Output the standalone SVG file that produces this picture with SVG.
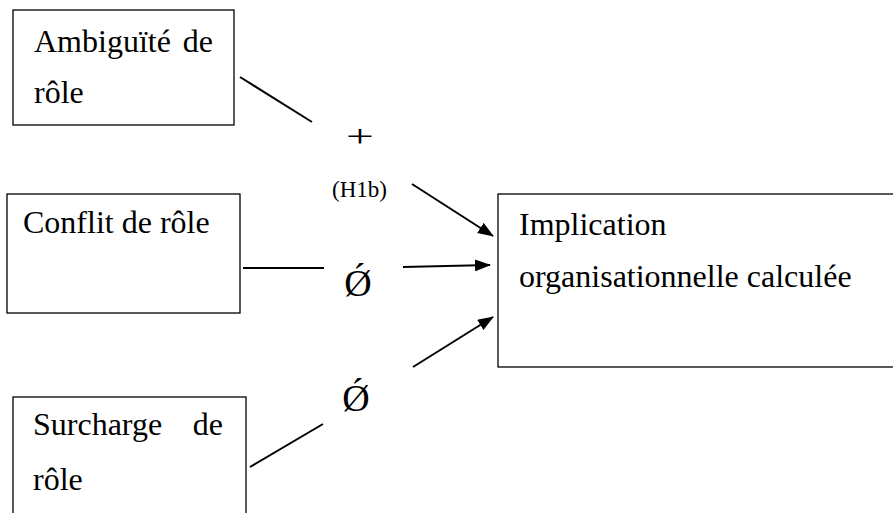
<svg xmlns="http://www.w3.org/2000/svg" width="893" height="513" viewBox="0 0 893 513">
  <style>
    .box { fill: #fff; stroke: #000; stroke-width: 1.3; }
    .lbl { font-family: "Liberation Serif", "Times New Roman", serif; font-size: 32px; fill: #000; }
    .sm { font-family: "Liberation Serif", "Times New Roman", serif; font-size: 23px; fill: #000; }
    .sym { font-family: "Liberation Serif", "Times New Roman", serif; font-size: 38px; fill: #000; text-anchor: middle; }
    .ln { stroke: #000; stroke-width: 2; fill: none; }
  </style>
  <defs>
    <marker id="arrow" markerWidth="16" markerHeight="12" refX="15" refY="6" orient="auto" markerUnits="userSpaceOnUse">
      <path d="M0,0 L16,6 L0,12 Z" fill="#000"/>
    </marker>
  </defs>

  <rect width="893" height="513" fill="#fff"/>

  <g id="ambiguite">
    <rect class="box" x="13" y="10" width="221" height="115"/>
    <text class="lbl" x="34" y="52">Ambiguïté</text>
    <text class="lbl" x="213" y="52" text-anchor="end">de</text>
    <text class="lbl" x="34" y="103">rôle</text>
  </g>

  <g id="conflit">
    <rect class="box" x="7" y="194" width="233" height="119"/>
    <text class="lbl" x="23" y="233">Conflit de rôle</text>
  </g>

  <g id="surcharge">
    <rect class="box" x="13" y="397" width="233" height="130"/>
    <text class="lbl" x="33" y="435">Surcharge</text>
    <text class="lbl" x="223" y="435" text-anchor="end">de</text>
    <text class="lbl" x="33" y="490">rôle</text>
  </g>

  <g id="implication">
    <rect class="box" x="498" y="194" width="400" height="173"/>
    <text class="lbl" x="519" y="235">Implication</text>
    <text class="lbl" x="519" y="287">organisationnelle calculée</text>
  </g>

  <g id="connectors">
    <line class="ln" x1="240" y1="77" x2="312" y2="122"/>
    <line class="ln" x1="412" y1="184" x2="493" y2="236" marker-end="url(#arrow)"/>
    <line class="ln" x1="243" y1="268" x2="324" y2="268"/>
    <line class="ln" x1="403" y1="267" x2="490" y2="265" marker-end="url(#arrow)"/>
    <line class="ln" x1="413" y1="367" x2="493" y2="317" marker-end="url(#arrow)"/>
    <line class="ln" x1="250" y1="467" x2="323" y2="424"/>
  </g>

  <g id="labels">
    <text class="sym" transform="translate(360,147) scale(1.3,0.85)">+</text>
    <text class="sm" x="332" y="197">(H1b)</text>
    <text class="sym" x="358" y="296">Ǿ</text>
    <text class="sym" x="356" y="411">Ǿ</text>
  </g>
</svg>
